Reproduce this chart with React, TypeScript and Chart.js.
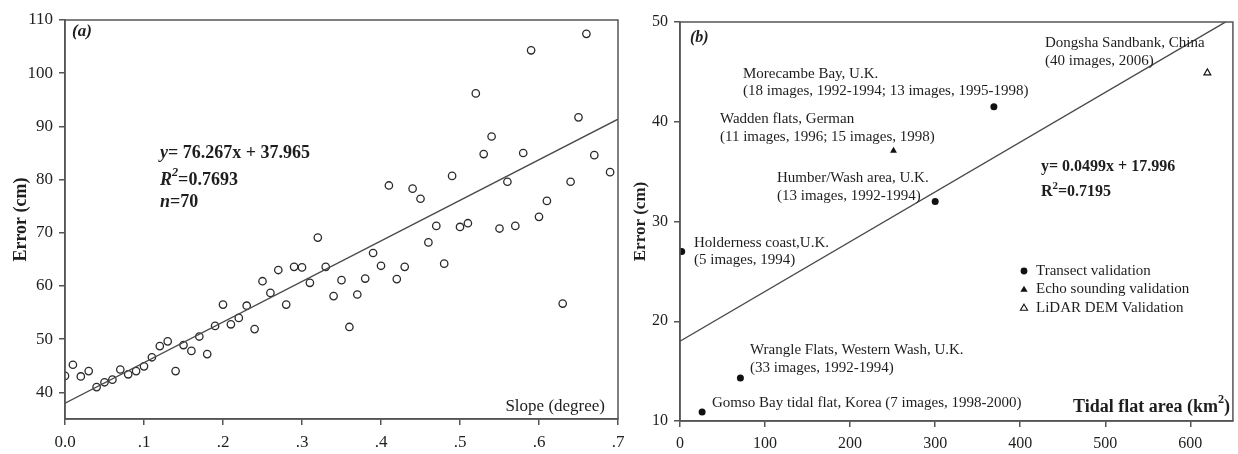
import React, { useEffect, useRef } from 'react';
import { Chart, registerables } from 'chart.js';

Chart.register(...registerables);

// ---------- Panel (a) data ----------
const slopeDegree = [
  0.0, 0.01, 0.02, 0.03, 0.04, 0.05, 0.06, 0.07, 0.08, 0.09,
  0.1, 0.11, 0.12, 0.13, 0.14, 0.15, 0.16, 0.17, 0.18, 0.19,
  0.2, 0.21, 0.22, 0.23, 0.24, 0.25, 0.26, 0.27, 0.28, 0.29,
  0.3, 0.31, 0.32, 0.33, 0.34, 0.35, 0.36, 0.37, 0.38, 0.39,
  0.4, 0.41, 0.42, 0.43, 0.44, 0.45, 0.46, 0.47, 0.48, 0.49,
  0.5, 0.51, 0.52, 0.53, 0.54, 0.55, 0.56, 0.57, 0.58, 0.59,
  0.6, 0.61, 0.63, 0.64, 0.65, 0.66, 0.67, 0.69,
];
const errorCmA = [
  43.1, 45.2, 43.0, 44.0, 41.0, 41.9, 42.4, 44.3, 43.4, 44.0,
  44.9, 46.6, 48.7, 49.6, 44.0, 48.9, 47.8, 50.5, 47.2, 52.5,
  56.5, 52.8, 54.0, 56.3, 51.9, 60.9, 58.7, 63.0, 56.5, 63.6,
  63.5, 60.6, 69.1, 63.6, 58.1, 61.1, 52.3, 58.4, 61.4, 66.2,
  63.8, 78.9, 61.3, 63.6, 78.3, 76.4, 68.2, 71.3, 64.2, 80.7,
  71.1, 71.8, 96.2, 84.8, 88.1, 70.8, 79.6, 71.3, 85.0, 104.3,
  73.0, 76.0, 56.7, 79.6, 91.7, 107.4, 84.6, 81.4,
];
const fitSlopeA = 76.267;
const fitInterceptA = 37.965;
const xTicksA = [0, 0.1, 0.2, 0.3, 0.4, 0.5, 0.6, 0.7];
const xTickLabelsA = ['0.0', '.1', '.2', '.3', '.4', '.5', '.6', '.7'];
const yTicksA = [40, 50, 60, 70, 80, 90, 100, 110];

// ---------- Panel (b) data ----------
const transectSites = [
  'Holderness coast,U.K.',
  'Wrangle Flats, Western Wash, U.K.',
  'Gomso Bay tidal flat, Korea',
  'Humber/Wash area, U.K.',
  'Morecambe Bay, U.K.',
];
const transectArea = [2, 71, 26, 300, 369];
const transectError = [27.0, 14.3, 10.9, 32.0, 41.5];
const echoSites = ['Wadden flats, German'];
const echoArea = [251];
const echoError = [37.1];
const lidarSites = ['Dongsha Sandbank, China'];
const lidarArea = [620];
const lidarError = [44.9];
const fitSlopeB = 0.0499;
const fitInterceptB = 17.996;
const xTicksB = [0, 100, 200, 300, 400, 500, 600];
const yTicksB = [10, 20, 30, 40, 50];
const legendLabelsB = ['Transect validation', 'Echo sounding validation', 'LiDAR DEM Validation'];

const SERIF = '"Liberation Serif", "Times New Roman", serif';
const INK = '#1e1e1e';
const AXIS = '#555';

type Part = { t: string; bold?: boolean; italic?: boolean; sup?: boolean };
type TextItem = { x: number; y: number; size: number; parts: Part[]; align?: 'left' | 'right' };

function fontOf(p: Part, size: number) {
  const s = p.sup ? size * 0.68 : size;
  return `${p.italic ? 'italic ' : ''}${p.bold ? 'bold ' : ''}${s}px ${SERIF}`;
}

function drawRich(ctx: CanvasRenderingContext2D, item: TextItem) {
  ctx.save();
  ctx.fillStyle = INK;
  ctx.textBaseline = 'middle';
  ctx.textAlign = 'left';
  let total = 0;
  const widths = item.parts.map((p) => {
    ctx.font = fontOf(p, item.size);
    const w = ctx.measureText(p.t).width;
    total += w;
    return w;
  });
  let x = item.align === 'right' ? item.x - total : item.x;
  item.parts.forEach((p, i) => {
    ctx.font = fontOf(p, item.size);
    ctx.fillText(p.t, x, p.sup ? item.y - item.size * 0.38 : item.y);
    x += widths[i];
  });
  ctx.restore();
}

function makeTextPlugin(id: string, offsetX: number, items: TextItem[], extra?: (ctx: CanvasRenderingContext2D) => void) {
  return {
    id,
    afterDraw(chart: any) {
      const ctx = chart.ctx as CanvasRenderingContext2D;
      const a = chart.chartArea;
      ctx.save();
      ctx.strokeStyle = AXIS;
      ctx.lineWidth = 1.5;
      ctx.strokeRect(a.left, a.top, a.right - a.left, a.bottom - a.top);
      ctx.restore();
      items.forEach((it) => drawRich(ctx, { ...it, x: it.x - offsetX }));
      if (extra) extra(ctx);
    },
  };
}

function axisCommon(size: number) {
  return {
    grid: { display: true, drawOnChartArea: false, drawTicks: true, tickLength: 6, color: AXIS, lineWidth: 1.5 },
    border: { display: true, color: AXIS, width: 1.5 },
    ticks: { font: { family: SERIF, size }, color: INK, maxRotation: 0, autoSkip: false },
  };
}

const LEFT_A = 0;
const LEFT_B = 615;

export default function App() {
  const refA = useRef<HTMLCanvasElement | null>(null);
  const refB = useRef<HTMLCanvasElement | null>(null);

  useEffect(() => {
    if (!refA.current || !refB.current) return;

    // ---------- Chart (a) ----------
    const pointsA = slopeDegree.map((x, i) => ({ x, y: errorCmA[i] }));
    const lineA = [0, 0.7].map((x) => ({ x, y: fitSlopeA * x + fitInterceptA }));
    const baseA = axisCommon(17);
    const textsA: TextItem[] = [
      { x: 72, y: 32, size: 17, parts: [{ t: '(a)', bold: true, italic: true }] },
      { x: 160, y: 153, size: 18, parts: [{ t: 'y', bold: true, italic: true }, { t: '= 76.267x + 37.965', bold: true }] },
      { x: 160, y: 180, size: 18, parts: [{ t: 'R', bold: true, italic: true }, { t: '2', bold: true, italic: true, sup: true }, { t: '=0.7693', bold: true }] },
      { x: 160, y: 202, size: 18, parts: [{ t: 'n', bold: true, italic: true }, { t: '=70', bold: true }] },
      { x: 605, y: 407, size: 17, align: 'right', parts: [{ t: 'Slope (degree)' }] },
    ];
    const chartA = new Chart(refA.current, {
      type: 'scatter',
      data: {
        datasets: [
          {
            type: 'line',
            data: lineA,
            showLine: true,
            borderColor: '#4a4a4a',
            borderWidth: 1.4,
            pointRadius: 0,
            fill: false,
            order: 0,
          } as any,
          {
            data: pointsA,
            pointStyle: 'circle',
            pointRadius: 3.7,
            borderWidth: 1.3,
            borderColor: '#2a2a2a',
            backgroundColor: 'rgba(255,255,255,0)',
            order: 1,
          },
        ],
      },
      options: {
        responsive: false,
        animation: false,
        events: [],
        layout: { padding: { top: 20, right: 17, left: 0, bottom: 0 } },
        plugins: { legend: { display: false }, tooltip: { enabled: false } },
        scales: {
          x: {
            type: 'linear',
            min: 0,
            max: 0.7,
            ...baseA,
            ticks: { ...baseA.ticks, padding: 7, callback: (_v: any, i: number) => xTickLabelsA[i] },
            afterBuildTicks: (s: any) => { s.ticks = xTicksA.map((value) => ({ value })); },
            afterFit: (s: any) => { s.height = 35; },
          },
          y: {
            type: 'linear',
            min: 35,
            max: 110,
            ...baseA,
            ticks: { ...baseA.ticks, padding: 6 },
            afterBuildTicks: (s: any) => { s.ticks = yTicksA.map((value) => ({ value })); },
            afterFit: (s: any) => { s.width = 65; },
            title: {
              display: true,
              text: 'Error (cm)',
              color: INK,
              font: { family: SERIF, size: 18, weight: 'bold' },
              padding: { top: 11, bottom: 0 },
            },
          },
        },
      } as any,
      plugins: [makeTextPlugin('textsA', LEFT_A, textsA)],
    });

    // ---------- Chart (b) ----------
    const tr = transectArea.map((x, i) => ({ x, y: transectError[i] }));
    const ec = echoArea.map((x, i) => ({ x, y: echoError[i] }));
    const li = lidarArea.map((x, i) => ({ x, y: lidarError[i] }));
    const lineB = [0, 650].map((x) => ({ x, y: fitSlopeB * x + fitInterceptB }));
    const baseB = axisCommon(16);
    const textsB: TextItem[] = [
      { x: 690, y: 38, size: 16, parts: [{ t: '(b)', bold: true, italic: true }] },
      { x: 743, y: 74, size: 15, parts: [{ t: transectSites[4] }] },
      { x: 743, y: 91, size: 15, parts: [{ t: '(18 images, 1992-1994; 13 images, 1995-1998)' }] },
      { x: 720, y: 119, size: 15, parts: [{ t: echoSites[0] }] },
      { x: 720, y: 137, size: 15, parts: [{ t: '(11 images, 1996; 15 images, 1998)' }] },
      { x: 777, y: 178, size: 15, parts: [{ t: transectSites[3] }] },
      { x: 777, y: 196, size: 15, parts: [{ t: '(13 images, 1992-1994)' }] },
      { x: 1045, y: 43, size: 15, parts: [{ t: lidarSites[0] }] },
      { x: 1045, y: 61, size: 15, parts: [{ t: '(40 images, 2006)' }] },
      { x: 694, y: 243, size: 15, parts: [{ t: transectSites[0] }] },
      { x: 694, y: 260, size: 15, parts: [{ t: '(5 images, 1994)' }] },
      { x: 750, y: 350, size: 15, parts: [{ t: transectSites[1] }] },
      { x: 750, y: 368, size: 15, parts: [{ t: '(33 images, 1992-1994)' }] },
      { x: 712, y: 403, size: 15, parts: [{ t: transectSites[2] + ' (7 images, 1998-2000)' }] },
      { x: 1041, y: 167, size: 16, parts: [{ t: 'y= 0.0499x + 17.996', bold: true }] },
      { x: 1041, y: 192, size: 16, parts: [{ t: 'R', bold: true }, { t: '2', bold: true, sup: true }, { t: '=0.7195', bold: true }] },
      { x: 1230, y: 407, size: 18, align: 'right', parts: [{ t: 'Tidal flat area (km', bold: true }, { t: '2', bold: true, sup: true }, { t: ')', bold: true }] },
      { x: 1036, y: 271, size: 15, parts: [{ t: legendLabelsB[0] }] },
      { x: 1036, y: 289.5, size: 15, parts: [{ t: legendLabelsB[1] }] },
      { x: 1036, y: 308, size: 15, parts: [{ t: legendLabelsB[2] }] },
    ];
    const legendMarkers = (ctx: CanvasRenderingContext2D) => {
      const mx = 1024 - LEFT_B;
      ctx.save();
      ctx.fillStyle = '#111';
      ctx.strokeStyle = '#111';
      ctx.lineWidth = 1.1;
      ctx.beginPath();
      ctx.arc(mx, 271, 3.4, 0, Math.PI * 2);
      ctx.fill();
      const tri = (cy: number, filled: boolean) => {
        const r = 3.8;
        ctx.beginPath();
        ctx.moveTo(mx, cy - r);
        ctx.lineTo(mx + r * 0.95, cy + r * 0.6);
        ctx.lineTo(mx - r * 0.95, cy + r * 0.6);
        ctx.closePath();
        if (filled) ctx.fill();
        else ctx.stroke();
      };
      tri(289.5, true);
      tri(308, false);
      ctx.restore();
    };
    const chartB = new Chart(refB.current, {
      type: 'scatter',
      data: {
        datasets: [
          {
            type: 'line',
            data: lineB,
            showLine: true,
            borderColor: '#4a4a4a',
            borderWidth: 1.4,
            pointRadius: 0,
            fill: false,
            order: 0,
          } as any,
          {
            label: legendLabelsB[0],
            data: tr,
            pointStyle: 'circle',
            pointRadius: 3.5,
            borderWidth: 0,
            backgroundColor: '#111',
            borderColor: '#111',
            order: 1,
          },
          {
            label: legendLabelsB[1],
            data: ec,
            pointStyle: 'triangle',
            pointRadius: 4,
            borderWidth: 0,
            backgroundColor: '#111',
            borderColor: '#111',
            order: 1,
          },
          {
            label: legendLabelsB[2],
            data: li,
            pointStyle: 'triangle',
            pointRadius: 4,
            borderWidth: 1.1,
            backgroundColor: 'rgba(255,255,255,0)',
            borderColor: '#111',
            order: 1,
          },
        ],
      },
      options: {
        responsive: false,
        animation: false,
        events: [],
        layout: { padding: { top: 22, right: 5, left: 0, bottom: 0 } },
        plugins: { legend: { display: false }, tooltip: { enabled: false } },
        scales: {
          x: {
            type: 'linear',
            min: 0,
            max: 650,
            ...baseB,
            ticks: { ...baseB.ticks, padding: 7 },
            afterBuildTicks: (s: any) => { s.ticks = xTicksB.map((value) => ({ value })); },
            afterFit: (s: any) => { s.height = 33; },
          },
          y: {
            type: 'linear',
            min: 10,
            max: 50,
            ...baseB,
            ticks: { ...baseB.ticks, padding: 6 },
            afterBuildTicks: (s: any) => { s.ticks = yTicksB.map((value) => ({ value })); },
            afterFit: (s: any) => { s.width = 65; },
            title: {
              display: true,
              text: 'Error (cm)',
              color: INK,
              font: { family: SERIF, size: 17, weight: 'bold' },
              padding: { top: 15, bottom: 0 },
            },
          },
        },
      } as any,
      plugins: [makeTextPlugin('textsB', LEFT_B, textsB, legendMarkers)],
    });

    return () => {
      chartA.destroy();
      chartB.destroy();
    };
  }, []);

  return (
    <div style={{ position: 'absolute', left: 0, top: 0, width: 1238, height: 454, background: '#fff', overflow: 'hidden' }}>
      <canvas ref={refA} width={635} height={454} style={{ position: 'absolute', left: LEFT_A, top: 0 }} />
      <canvas ref={refB} width={1238 - LEFT_B} height={454} style={{ position: 'absolute', left: LEFT_B, top: 0 }} />
    </div>
  );
}
